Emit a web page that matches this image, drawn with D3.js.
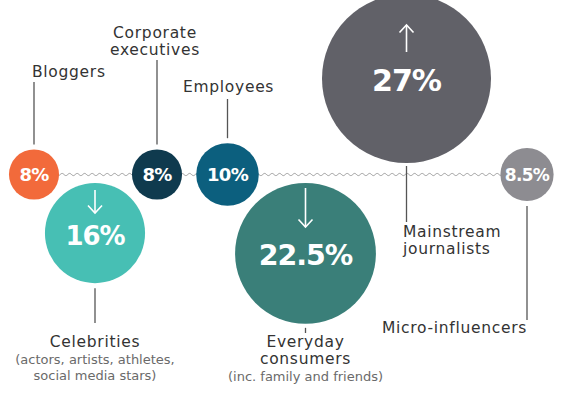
<!DOCTYPE html>
<html><head><meta charset="utf-8">
<script src="https://cdn.jsdelivr.net/npm/d3@7"></script>
<style>html,body{margin:0;padding:0;background:#fff;} svg{display:block;}</style>
</head><body><svg id="chart" width="585" height="395"></svg>
<script>
// ---- data ----
const categories = ["Bloggers","Celebrities","Corporate executives","Employees","Everyday consumers","Mainstream journalists","Micro-influencers"];
const values = [8, 16, 8, 10, 22.5, 27, 8.5];
const valueLabels = ["8%","16%","8%","10%","22.5%","27%","8.5%"];
const sides = ["on","below","on","on","below","above","on"];
const trends = ["none","down","none","none","down","up","none"];
const titleLines = [["Bloggers"],["Celebrities"],["Corporate","executives"],["Employees"],["Everyday","consumers"],["Mainstream","journalists"],["Micro-influencers"]];
const noteLines = [[],["(actors, artists, athletes,","social media stars)"],[],[],["(inc. family and friends)"],[],[]];

// ---- style / layout ----
const colors = ["#F26A3B","#47BFB4","#0F3A4E","#0C5F7E","#3A7F79","#616168","#8D8C91"];
const W = 585, H = 395, lineY = 174.5;
const x = d3.scaleOrdinal().domain(categories).range([34, 95, 157, 227.5, 305.5, 406.5, 527]);
const r = d3.scaleLinear().domain([0, 27]).range([0, 84.5]);
const color = d3.scaleOrdinal().domain(categories).range(colors);
const labelLayout = [
  {edge:"top", gap:5, end:82, anchor:"start", dx:-2, ys:[77]},
  {edge:"bottom", gap:5, end:323, anchor:"middle", dx:0, ys:[347,364,380], arrowStart:7, arrowLen:23},
  {edge:"top", gap:5, end:60, anchor:"middle", dx:-2, ys:[38,55]},
  {edge:"top", gap:5, end:99, anchor:"start", dx:-44.5, ys:[92]},
  {edge:"bottom", gap:4, end:333, anchor:"middle", dx:0, ys:[347,364,381], arrowStart:5, arrowLen:39},
  {edge:"bottom", gap:3, end:222, anchor:"start", dx:-3.5, ys:[237,254], arrowStart:31, arrowLen:27},
  {edge:"bottom", gap:5, end:320, anchor:"end", dx:0, ys:[333]}
];

const data = categories.map((c, i) => ({
  cat: c, value: values[i], label: valueLabels[i], side: sides[i], trend: trends[i],
  title: titleLines[i], note: noteLines[i], lay: labelLayout[i]
}));
data.forEach(d => {
  d.cx = x(d.cat);
  d.r = r(d.value);
  d.cy = d.side === "on" ? lineY : d.side === "below" ? lineY + 8.5 + d.r : lineY - 11.5 - d.r;
});

const svg = d3.select("#chart");
svg.append("rect").attr("width", W).attr("height", H).attr("fill", "#fff");

// wavy baseline
const x0 = d3.min(data, d => d.cx), x1 = d3.max(data, d => d.cx);
const wave = d3.range(x0, x1, 0.5).map(v => [v, lineY + 1.1 * Math.sin((v - x0) / 7.5 * 2 * Math.PI)]);
svg.append("path").attr("d", d3.line()(wave)).attr("fill", "none").attr("stroke", "#9a9a9a").attr("stroke-width", 1);

// connector lines
svg.append("g").selectAll("line").data(data).join("line")
  .attr("x1", d => d.cx).attr("x2", d => d.cx)
  .attr("y1", d => d.lay.edge === "top" ? d.cy - d.r - d.lay.gap : d.cy + d.r + d.lay.gap)
  .attr("y2", d => d.lay.end)
  .attr("stroke", "#555").attr("stroke-width", 1.3);

// circles
svg.append("g").selectAll("circle").data(data).join("circle")
  .attr("cx", d => d.cx).attr("cy", d => d.cy).attr("r", d => d.r)
  .attr("fill", d => color(d.cat));

// value labels
const big = d => d.r > 35;
svg.append("g").selectAll("text").data(data).join("text")
  .attr("x", d => d.cx)
  .attr("y", d => d.cy + (big(d) ? 12 : 6.5))
  .attr("text-anchor", "middle")
  .attr("font-family", "DejaVu Sans, sans-serif")
  .attr("font-weight", "bold")
  .attr("font-size", d => big(d) ? 20 + d.r * 0.12 : (d.label.length > 3 ? 17 : 18))
  .attr("letter-spacing", d => big(d) ? -1 : -0.7)
  .attr("fill", "#fff")
  .text(d => d.label);

// trend arrows
const arr = svg.append("g").attr("stroke", "#fff").attr("stroke-width", 1.6).attr("fill", "none");
data.filter(d => d.trend !== "none").forEach(d => {
  const top = d.cy - d.r;
  const ya = top + d.lay.arrowStart, yb = ya + d.lay.arrowLen;
  arr.append("line").attr("x1", d.cx).attr("x2", d.cx).attr("y1", ya).attr("y2", yb);
  const tip = d.trend === "down" ? yb : ya;
  const s = d.trend === "down" ? -1 : 1;
  arr.append("path").attr("d", `M${d.cx - 7},${tip + s * 7.5}L${d.cx},${tip}L${d.cx + 7},${tip + s * 7.5}`);
});

// category labels
const lg = svg.append("g").attr("font-family", "DejaVu Sans, sans-serif");
data.forEach(d => {
  const lines = d.title.map(t => ({t, note:false})).concat(d.note.map(t => ({t, note:true})));
  lines.forEach((l, j) => {
    lg.append("text")
      .attr("x", d.cx + d.lay.dx).attr("y", d.lay.ys[j])
      .attr("text-anchor", d.lay.anchor)
      .attr("font-size", l.note ? 13 : 15.5)
      .attr("letter-spacing", l.note ? 0 : 0.7)
      .attr("fill", l.note ? "#6a6a6a" : "#333")
      .text(l.t);
  });
});
</script></body></html>
